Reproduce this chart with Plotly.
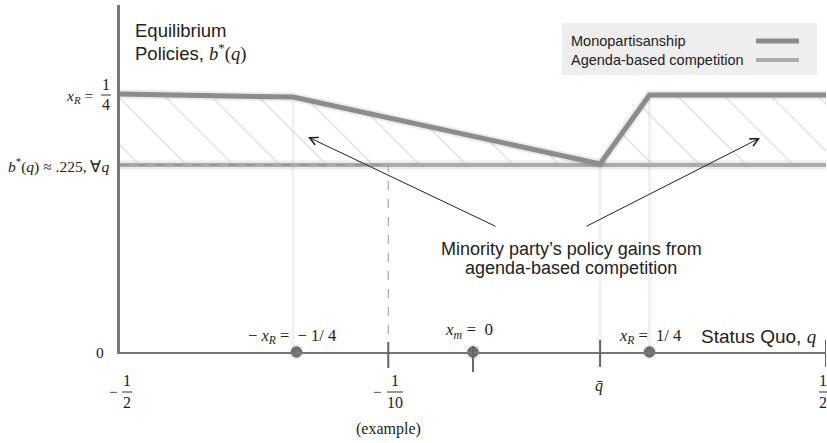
import plotly.graph_objects as go

# ---------------- data (schematic policy values as drawn) ----------------
q_mono = [-0.5, -0.255, 0.18, 0.25, 0.5]          # status quo q
b_mono = [0.251, 0.248, 0.183, 0.25, 0.25]         # monopartisanship equilibrium policy
q_comp = [-0.5, 0.5]
b_comp = [0.182, 0.182]                             # agenda-based competition b*(q)
ideal_x = [-0.25, 0.0, 0.25]                        # -x_R, x_m, x_R
ideal_y = [0, 0, 0]
example_q = -0.12                                   # "-1/10 (example)"
qbar = 0.18
Y_MAX = 0.3376

SANS = "Liberation Sans, Arial, sans-serif"
SERIF = "Liberation Serif, Times New Roman, serif"

# pixel layout of the plot area
L, R, T, B = 120, 826, 5, 352
W, H = 827, 443


def P(px, py):
    return (px - L) / (R - L), (B - py) / (B - T)


fig = go.Figure()

# soft shadows
fig.add_trace(go.Scatter(x=q_comp, y=b_comp, mode="lines",
                         line=dict(color="rgba(0,0,0,0.08)", width=9),
                         hoverinfo="skip", showlegend=False))
# competition line (base for hatch fill)
fig.add_trace(go.Scatter(x=q_comp, y=b_comp, mode="lines",
                         line=dict(color="#ababab", width=4),
                         name="Agenda-based competition", showlegend=False))
# hatched region between lines + monopartisanship line
fig.add_trace(go.Scatter(x=q_mono, y=b_mono, mode="lines", fill="tonexty",
                         fillcolor="rgba(0,0,0,0)",
                         fillpattern=dict(shape="\\", size=33, solidity=0.04,
                                          fgcolor="#bdbdbd", bgcolor="rgba(0,0,0,0)"),
                         line=dict(color="rgba(0,0,0,0)", width=0),
                         hoverinfo="skip", showlegend=False))
fig.add_trace(go.Scatter(x=q_mono, y=b_mono, mode="lines",
                         line=dict(color="rgba(0,0,0,0.08)", width=9),
                         hoverinfo="skip", showlegend=False))
fig.add_trace(go.Scatter(x=q_mono, y=b_mono, mode="lines",
                         line=dict(color="#8c8c8c", width=5),
                         name="Monopartisanship", showlegend=False))

shapes = []
# faint vertical guide lines at kinks
for xv, yv in zip(q_mono[1:4], b_mono[1:4]):
    shapes.append(dict(type="line", xref="x", yref="y", x0=xv, x1=xv, y0=0, y1=yv,
                       line=dict(color="#f1f1f1", width=3), layer="below"))
# dashed example lines
shapes.append(dict(type="line", xref="x", yref="y", x0=q_comp[0], x1=example_q,
                   y0=b_comp[0], y1=b_comp[0], line=dict(color="#888", width=1, dash="dash")))
shapes.append(dict(type="line", xref="x", yref="y", x0=example_q, x1=example_q,
                   y0=0, y1=b_comp[0], line=dict(color="#999", width=1, dash="dash")))
# ticks on x axis
for xv, up, dn in [(example_q, 10, 16), (qbar, 12, 15), (0.5, 12, 15), (0.0, 6, 20)]:
    shapes.append(dict(type="line", xref="x", yref="paper", x0=xv, x1=xv,
                       y0=-dn / (B - T), y1=up / (B - T),
                       line=dict(color="#666", width=2)))

fig.add_trace(go.Scatter(x=ideal_x, y=ideal_y, mode="markers", cliponaxis=False,
                         marker=dict(size=14, color="rgba(0,0,0,0.12)"),
                         hoverinfo="skip", showlegend=False))
fig.add_trace(go.Scatter(x=ideal_x, y=ideal_y, mode="markers", cliponaxis=False,
                         marker=dict(size=10, color="#707070", line=dict(color="#555", width=1)),
                         hoverinfo="skip", showlegend=False))

ann = []


def text(px, py, s, size=15, font=SERIF, xanchor="center", color="#222"):
    x, y = P(px, py)
    ann.append(dict(xref="paper", yref="paper", x=x, y=y, text=s, showarrow=False,
                    xanchor=xanchor, yanchor="middle",
                    font=dict(family=font, size=size, color=color)))


def frac(px, py, num, den, size=16, half=6):
    text(px, py - 11, num, size=size)
    text(px, py + 10, den, size=size)
    x0, y0 = P(px - half, py)
    x1, _ = P(px + half, py)
    shapes.append(dict(type="line", xref="paper", yref="paper", x0=x0, x1=x1, y0=y0, y1=y0,
                       line=dict(color="#333", width=1)))


XR = "<i>x</i><sub><i>R</i></sub>"
XM = "<i>x</i><sub><i>m</i></sub>"
BQ = "<span style='font-family:Liberation Serif'><i>b</i><sup>*</sup>(<i>q</i>)</span>"

# title
text(133, 31, "Equilibrium", size=18.5, font=SANS, xanchor="left")
text(133, 53, "Policies, " + BQ, size=18.5, font=SANS, xanchor="left")

# y labels
text(99, 96, XR + " = ", xanchor="right", size=15.5)
frac(106, 95, "1", "4", half=5)
text(111, 165, "<i>b</i><sup>*</sup>(<i>q</i>) ≈ .225, ∀<i>q</i>", xanchor="right", size=15.5)
text(100, 352, "0", size=15.5)

# x labels
text(113, 392, "−")
frac(127, 392, "1", "2", half=5)
text(377, 392, "−")
frac(395, 392, "1", "10", half=8)
text(599, 386, "<i>q̄</i>", size=16)
frac(823, 392, "1", "2", half=4)
text(388, 429, "(example)", size=16)

text(292, 336, "− " + XR + " =  − 1/ 4", size=16.5)
text(469, 331, XM + " =  0", size=17)
text(650, 336, XR + " =  1/ 4", size=16.5)
sx, sy = P(819, 336)
ann.append(dict(xref="paper", yref="paper", x=sx, y=sy, xanchor="right", yanchor="middle",
                showarrow=False,
                text="Status Quo, <span style='font-family:Liberation Serif'><i>q</i></span>",
                font=dict(family=SANS, size=19, color="#222")))

# annotation
text(571, 249, "Minority party’s policy gains from", size=18, font=SANS)
text(571, 268, "agenda-based competition", size=18, font=SANS)
for hx, hy, tx_, ty_ in [(308, 137, 497, 227), (760, 138, 585, 227)]:
    x, y = P(hx, hy)
    ann.append(dict(xref="paper", yref="paper", x=x, y=y, ax=tx_ - hx, ay=ty_ - hy,
                    axref="pixel", ayref="pixel", text="", showarrow=True,
                    arrowhead=5, arrowsize=1.6, arrowwidth=1, arrowcolor="#222"))

# custom legend (text left, line sample right)
x0, y0 = P(562, 23)
x1, y1 = P(817, 75)
shapes.append(dict(type="rect", xref="paper", yref="paper", x0=x0, x1=x1, y0=y1, y1=y0,
                   fillcolor="#eeeeee", line=dict(width=0), layer="below"))
text(569, 41, "Monopartisanship", size=14.5, font=SANS, xanchor="left")
text(569, 60, "Agenda-based competition", size=14.5, font=SANS, xanchor="left")
for py, col, w in [(41, "#8c8c8c", 5), (60, "#ababab", 4)]:
    a, b = P(756, py)
    c, _ = P(799, py)
    shapes.append(dict(type="line", xref="paper", yref="paper", x0=a, x1=c, y0=b, y1=b,
                       line=dict(color=col, width=w)))

fig.update_layout(
    width=W, height=H,
    margin=dict(l=L, r=W - R, t=T, b=H - B),
    paper_bgcolor="white", plot_bgcolor="white",
    xaxis=dict(range=[-0.5, 0.5], showline=True, linecolor="#777", linewidth=2,
               showgrid=False, zeroline=False, showticklabels=False, ticks=""),
    yaxis=dict(range=[0, Y_MAX], showline=True, linecolor="#777", linewidth=2.5,
               showgrid=False, zeroline=False, showticklabels=False, ticks=""),
    shapes=shapes, annotations=ann, showlegend=False,
)

fig.write_html("out.html", config={"displayModeBar": False},
               post_script="document.body.style.margin='0';document.body.style.overflow='hidden';")
